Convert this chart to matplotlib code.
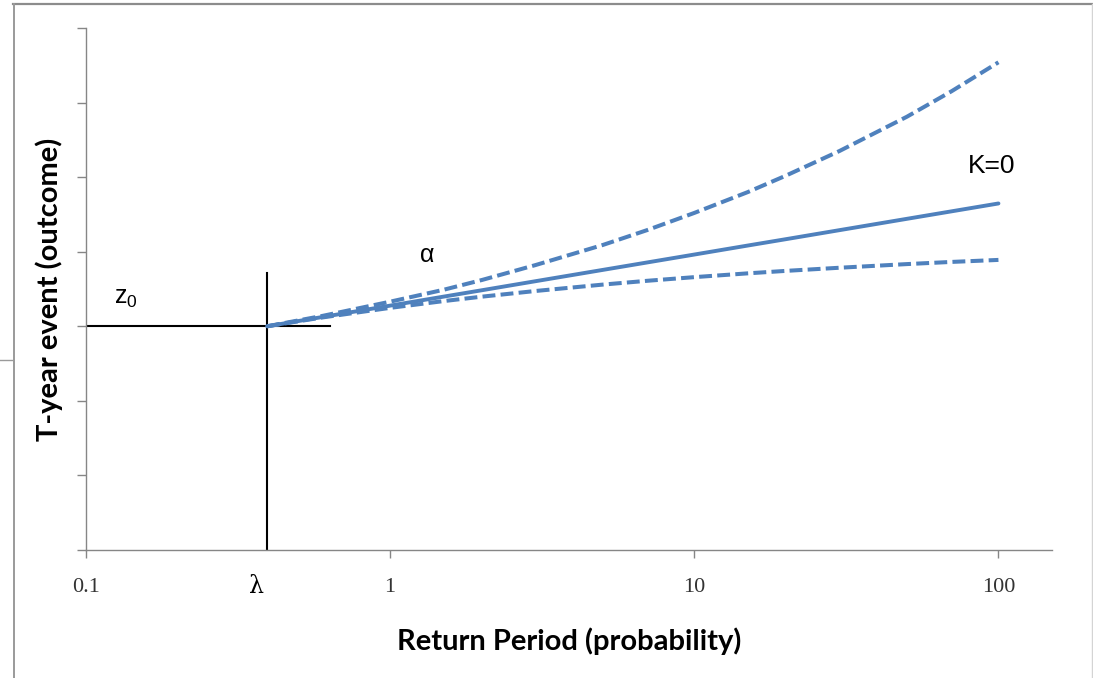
import numpy as np
import matplotlib
matplotlib.use("Agg")
import matplotlib.pyplot as plt
from matplotlib.lines import Line2D
from matplotlib.transforms import blended_transform_factory

# values
return_period = [0.394, 0.6, 1, 1.5, 2, 3, 5, 7, 10, 15, 20, 30, 50, 70, 100]
k_zero = [3.0, 3.125, 3.277, 3.398, 3.483, 3.604, 3.756, 3.856, 3.962,
          4.083, 4.168, 4.289, 4.441, 4.541, 4.647]
k_upper = [3.0, 3.14, 3.33, 3.49, 3.62, 3.82, 4.09, 4.29, 4.52,
           4.80, 5.02, 5.35, 5.81, 6.15, 6.54]
k_lower = [3.0, 3.119, 3.247, 3.338, 3.397, 3.473, 3.559, 3.610, 3.659,
           3.710, 3.743, 3.785, 3.834, 3.863, 3.890]

lambda_x = 0.394
z0 = 3.0
z0_line_end = 0.635
lambda_line_top = 3.72

x_ticks = [0.1, 1, 10, 100]
x_tick_labels = ["0.1", "1", "10", "100"]
y_ticks = [0, 1, 2, 3, 4, 5, 6, 7]

blue = "#4f81bd"
axis_grey = "#868686"

plt.rcParams["mathtext.fontset"] = "custom"
plt.rcParams["mathtext.rm"] = "Liberation Sans"

fig = plt.figure(figsize=(10.93, 6.78), dpi=100)
ax = fig.add_axes([86 / 1093, 1 - 550 / 678, (1052 - 86) / 1093, 522 / 678])

# outer frame of the screenshot
fig.add_artist(Line2D([13 / 1093, 1], [1 - 4 / 678, 1 - 4 / 678], color="#8c8c8c", lw=1.6))
fig.add_artist(Line2D([13.5 / 1093, 13.5 / 1093], [0, 1 - 4 / 678], color="#9a9a9a", lw=1.4))
fig.add_artist(Line2D([1092 / 1093, 1092 / 1093], [0, 1 - 4 / 678], color="#d4d4d4", lw=1.0))
fig.add_artist(Line2D([0, 13 / 1093], [1 - 360 / 678, 1 - 360 / 678], color="#9a9a9a", lw=1.0))

ax.set_xscale("log")
ax.set_xlim(0.1, 150)
ax.set_ylim(0, 7)

# reference lines for z0 and lambda
ax.plot([0.1, z0_line_end], [z0, z0], color="black", lw=1.5, zorder=2)
ax.plot([lambda_x, lambda_x], [0, lambda_line_top], color="black", lw=1.5, zorder=2)

dash = (0, (3.2, 1.3))
ax.plot(return_period, k_upper, color=blue, lw=2.9, linestyle=dash, dash_capstyle="butt", zorder=3)
ax.plot(return_period, k_lower, color=blue, lw=2.9, linestyle=dash, dash_capstyle="butt", zorder=3)
ax.plot(return_period, k_zero, color=blue, lw=2.8, solid_capstyle="round", zorder=4)

for side in ["top", "right"]:
    ax.spines[side].set_visible(False)
for side in ["left", "bottom"]:
    ax.spines[side].set_color(axis_grey)
    ax.spines[side].set_linewidth(1.0)

ax.set_yticks(y_ticks)
ax.set_yticklabels([])
ax.set_xticks(x_ticks)
ax.set_xticklabels(x_tick_labels, fontfamily="Liberation Serif", fontsize=16, color="#333333")
ax.xaxis.set_minor_locator(matplotlib.ticker.NullLocator())
ax.tick_params(axis="y", direction="out", length=6.5, color=axis_grey, width=1)
ax.tick_params(axis="x", direction="out", length=5.8, color=axis_grey, width=1, pad=14)

ax.set_xlabel("Return Period (probability)", fontfamily="Lato", fontweight="bold", fontsize=21)
ax.set_ylabel("T-year event (outcome)", fontfamily="Lato", fontweight="bold", fontsize=21)
ax.xaxis.set_label_coords(0.5, -0.1475)
ax.yaxis.set_label_coords(-23 / 966, 0.5)

trans = blended_transform_factory(ax.transData, ax.transAxes)
ax.text(0.363, -0.069, "λ", transform=trans, ha="center", va="center",
        fontfamily="DejaVu Serif", fontsize=17)

ax.text(0.1354, 3.38, r"$\mathregular{z_0}$", ha="center", va="center",
        fontfamily="Liberation Sans", fontsize=18)
ax.text(1.327, 3.95, "α", ha="center", va="center", fontfamily="Liberation Sans", fontsize=18)
ax.text(95, 5.15, "K=0", ha="center", va="center", fontfamily="Liberation Sans", fontsize=19)

fig.savefig("out.png", dpi=100)
